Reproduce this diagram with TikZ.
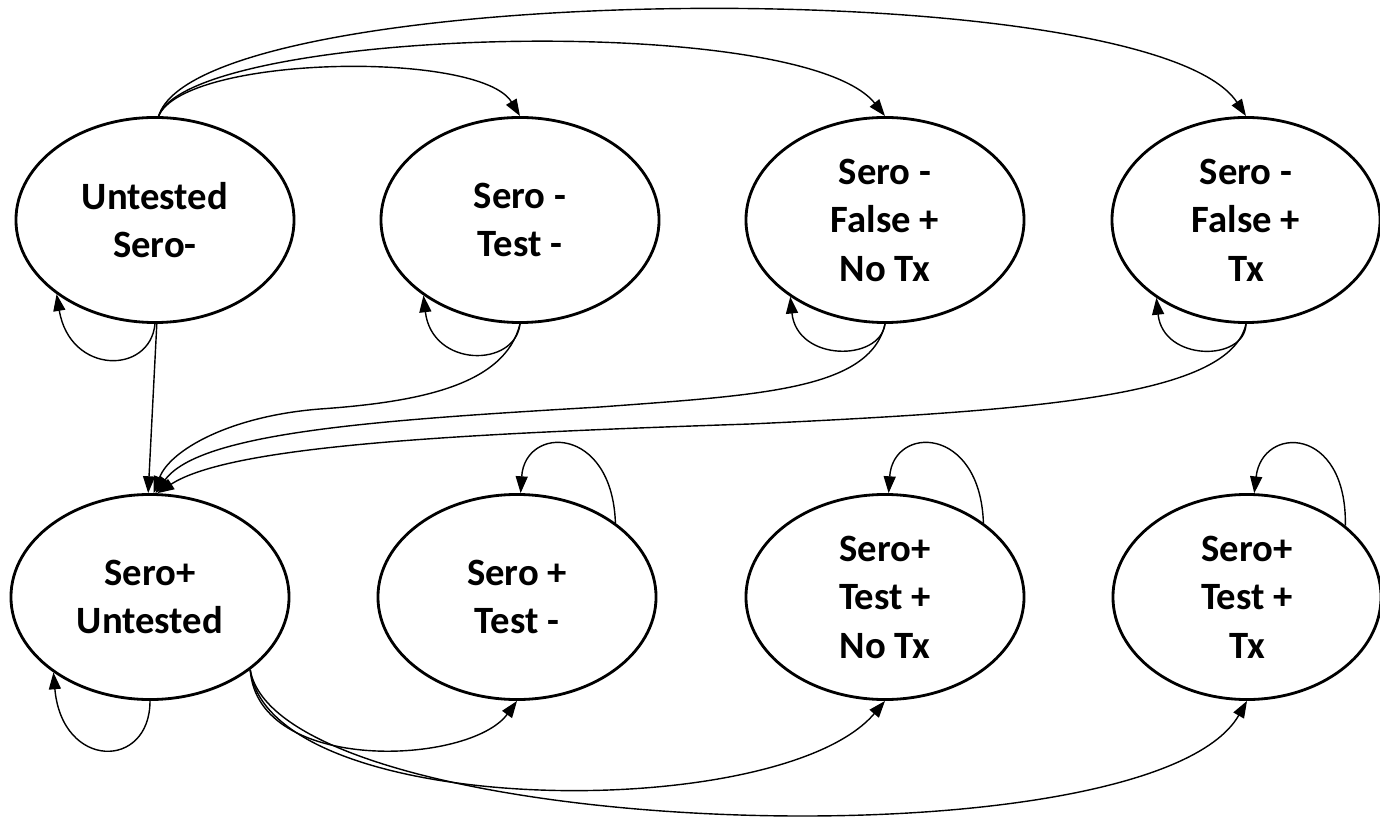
\documentclass[tikz,border=0pt]{standalone}
\usepackage{fontspec}
\setmainfont{Carlito}
\usetikzlibrary{shapes.geometric,arrows.meta}
\begin{document}
\begin{tikzpicture}[x=0.025cm,y=-0.025cm,
  state/.style={ellipse, draw, line width=2pt, minimum width=6.95cm, minimum height=5.125cm,
    inner sep=0pt, align=center, font=\fontsize{27.5}{34.5}\selectfont\bfseries},
  stateR/.style={state, minimum width=6.7cm},
  edge/.style={line width=1pt, -{Triangle[length=0.42cm,width=0.3cm]}}]
\useasboundingbox (0,0) rectangle (1380,819);
\fill[white] (0,0) rectangle (1380,819);

\node[state]  (A) at (155,220)  {Untested\\Sero-};
\node[state]  (B) at (520,220)  {Sero -\\Test -};
\node[state]  (C) at (885,220)  {Sero -\\False +\\No Tx};
\node[stateR] (D) at (1246,220) {Sero -\\False +\\Tx};
\node[state]  (E) at (150,597)  {Sero+\\Untested};
\node[state]  (F) at (517,597)  {Sero +\\Test -};
\node[state]  (G) at (885,597)  {Sero+\\Test +\\No Tx};
\node[stateR] (H) at (1247,597) {Sero+\\Test +\\Tx};

% top arcs
\draw[edge] (A.88) .. controls (185,55) and (480,50) .. (B.90);
\draw[edge] (A.88) .. controls (190,28) and (800,10) .. (C.90);
\draw[edge] (A.88) .. controls (200,-20) and (1150,-30) .. (D.90);

% self loops
\draw[edge] (A.-90) .. controls (150,375) and (70,375) .. (A.217);
\draw[edge] (B.-90) .. controls (515,368) and (432,368) .. (B.218);
\draw[edge] (C.-90) .. controls (880,362) and (797,362) .. (C.219);
\draw[edge] (D.-90) .. controls (1245,362) and (1163,362) .. (D.221);
\draw[edge] (E.-90) .. controls (150,770) and (62,770) .. (E.218);
\draw[edge] (F.37) .. controls (612,425) and (525,425) .. (F.88);
\draw[edge] (G.37) .. controls (980,425) and (893,425) .. (G.88);
\draw[edge] (H.36) .. controls (1347,425) and (1262,425) .. (H.86);

% into Sero+ Untested
\draw[edge] (A.-89) -- (E.91);
\draw[edge] (B.-90) .. controls (505,385) and (420,402) .. (320,409) .. controls (230,416) and (170,450) .. (E.88);
\draw[edge] (C.-90) .. controls (870,390) and (760,395) .. (600,407) .. controls (380,420) and (200,432) .. (E.87);
\draw[edge] (D.-90) .. controls (1230,395) and (1050,410) .. (750,424) .. controls (450,434) and (230,446) .. (E.86);

% bottom arcs
\draw[edge] (E.-36) .. controls (258,775) and (470,765) .. (F.-90);
\draw[edge] (E.-36) .. controls (270,820) and (780,825) .. (G.-90);
\draw[edge] (E.-36) .. controls (280,840) and (1150,870) .. (H.-90);
\end{tikzpicture}
\end{document}
